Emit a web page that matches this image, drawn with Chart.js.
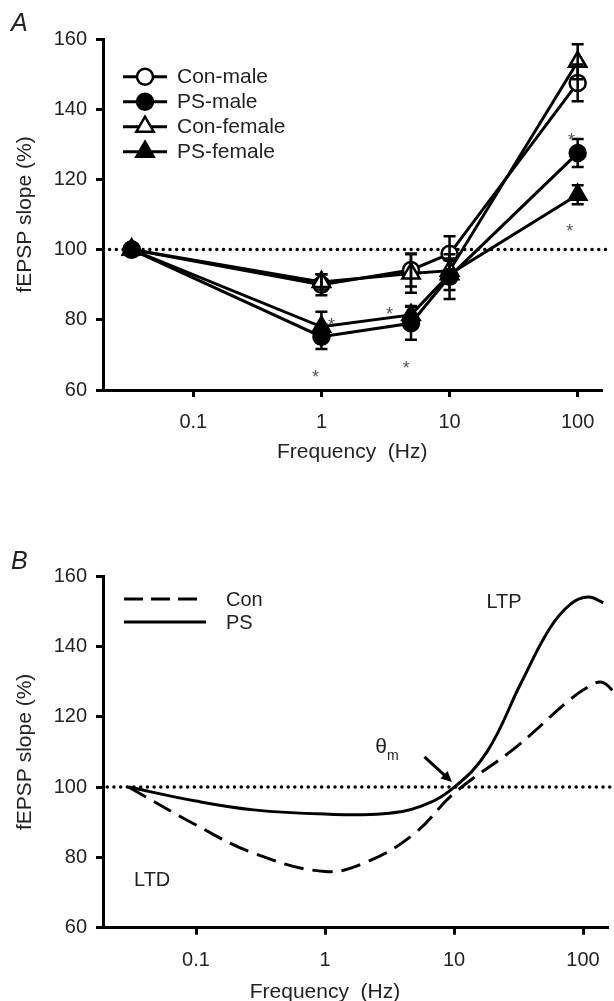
<!DOCTYPE html>
<html>
<head>
<meta charset="utf-8">
<script src="https://cdn.jsdelivr.net/npm/chart.js@4.4.0/dist/chart.umd.min.js"></script>
<style>
  html, body { margin: 0; padding: 0; background: #fff; }
  #wrap { position: relative; width: 614px; height: 1001px; }
  canvas { position: absolute; left: 0; }
  #chartA { top: 0; }
  #chartB { top: 500px; }
</style>
</head>
<body>
<div id="wrap">
  <canvas id="chartA" width="614" height="500"></canvas>
  <canvas id="chartB" width="614" height="501"></canvas>
</div>
<script>
// ===== panel A: frequency-response, mean ± SEM =====
const freqA = [0.033, 1, 5, 10, 100];
const conMale       = [100, 90.0, 94.2, 98.8, 147.5];
const conMaleErr    = [0, 3.0, 4.7, 5.0, 5.2];
const psMale        = [100, 75.2, 79.0, 92.3, 127.5];
const psMaleErr     = [0, 3.5, 4.7, 6.4, 4.0];
const conFemale     = [100, 90.8, 93.2, 94.0, 153.5];
const conFemaleErr  = [0, 2.2, 5.5, 3.0, 5.0];
const psFemale      = [100, 78.0, 81.4, 93.0, 115.6];
const psFemaleErr   = [0, 4.3, 2.5, 4.5, 2.7];

// asterisks (significance marks) in data units
const starFreq = [1.2, 0.9, 3.4, 4.6, 89.7, 86.7];
const starVal  = [79.8, 64.9, 82.8, 67.3, 132.3, 106.4];

// ===== panel B: model curves =====
const freqCon = [0.03, 0.1, 0.28, 1.0, 2.14, 4.95, 10, 30.6, 76, 110, 140, 175];
const valCon  = [100, 89.2, 81.2, 76.0, 78.8, 86.8, 98.2, 111.5, 124.3, 128.5, 129.8, 127.0];
const freqPS  = [0.03, 0.1, 0.28, 1.0, 2.83, 5.5, 10, 18, 33, 55, 80, 110, 143.5];
const valPS   = [100, 96.0, 93.5, 92.3, 92.4, 94.5, 99.9, 110.0, 129.5, 145.0, 152.0, 154.0, 152.4];

// ticks
const xTicks = [0.1, 1, 10, 100];
const yTicks = [60, 80, 100, 120, 140, 160];
const baseline = 100;

const FONT = '"Liberation Sans", Arial, sans-serif';
const TXT = '#222';
Chart.defaults.font.family = FONT;
Chart.defaults.color = TXT;

const pts = (xs, ys) => xs.map((x, i) => ({ x, y: ys[i] }));

const drawMarker = (ctx, style, r, x, y, fill) => {
  ctx.beginPath();
  if (style === 'circle') {
    ctx.arc(x, y, r, 0, Math.PI * 2);
  } else {
    let a = 0;
    for (let k = 0; k < 3; k++) {
      const px = x + Math.sin(a) * r, py = y - Math.cos(a) * r;
      k ? ctx.lineTo(px, py) : ctx.moveTo(px, py);
      a += Math.PI * 2 / 3;
    }
    ctx.closePath();
  }
  ctx.fillStyle = fill;
  ctx.fill();
  ctx.lineWidth = 2.5;
  ctx.strokeStyle = '#000';
  ctx.stroke();
};

const refLine = (xmin, xmax) => ({
  data: [{ x: xmin, y: baseline }, { x: xmax, y: baseline }],
  borderColor: '#000',
  borderWidth: 3.5,
  borderDash: [0, 6.7],
  borderCapStyle: 'round',
  pointRadius: 0,
  clip: false,
  order: 9
});

const axisOpts = (xMin, xMax, tickPad, titleA) => ({
  x: {
    type: 'logarithmic',
    min: xMin,
    max: xMax,
    afterBuildTicks: (s) => { s.ticks = xTicks.map(v => ({ value: v })); },
    afterFit: (s) => { s.height = titleA ? 110 : 73.3; },
    ticks: { callback: (v) => String(v), font: { size: 20 }, color: TXT, padding: tickPad, maxRotation: 0, autoSkip: false },
    grid: { drawOnChartArea: false, drawTicks: true, tickLength: 7, tickColor: '#000', tickWidth: 3, lineWidth: 3 },
    border: { display: true, color: '#000', width: 3 },
    title: {
      display: titleA,
      text: 'Frequency  (Hz)',
      font: { size: 21 },
      color: TXT,
      padding: { top: 0, bottom: 35 }
    }
  },
  y: {
    min: 60,
    max: 160,
    afterBuildTicks: (s) => { s.ticks = yTicks.map(v => ({ value: v })); },
    afterFit: (s) => { s.width = 103; },
    ticks: { font: { size: 20 }, color: TXT, padding: 9 },
    grid: { drawOnChartArea: false, drawTicks: true, tickLength: 7, tickColor: '#000', tickWidth: 3, lineWidth: 3 },
    border: { display: true, color: '#000', width: 3 },
    title: {
      display: true,
      text: 'fEPSP slope (%)',
      font: { size: 21 },
      color: TXT,
      padding: { top: 13, bottom: 0 }
    }
  }
});

// ===== plugins =====
const whiteBg = {
  id: 'whiteBg',
  beforeDraw(c) {
    const ctx = c.ctx;
    ctx.save();
    ctx.fillStyle = '#fff';
    ctx.fillRect(0, 0, c.width, c.height);
    ctx.restore();
  }
};

const errorBars = {
  id: 'errorBars',
  afterDatasetsDraw(chart) {
    const { ctx } = chart;
    const y = chart.scales.y;
    ctx.save();
    ctx.strokeStyle = '#000';
    ctx.lineWidth = 2.5;
    chart.data.datasets.forEach((ds, i) => {
      if (!ds.errors) return;
      chart.getDatasetMeta(i).data.forEach((pt, j) => {
        const e = ds.errors[j];
        if (!e) return;
        const v = ds.data[j].y;
        const top = y.getPixelForValue(v + e), bot = y.getPixelForValue(v - e);
        ctx.beginPath();
        ctx.moveTo(pt.x, top); ctx.lineTo(pt.x, bot);
        ctx.moveTo(pt.x - 6, top); ctx.lineTo(pt.x + 6, top);
        ctx.moveTo(pt.x - 6, bot); ctx.lineTo(pt.x + 6, bot);
        ctx.stroke();
      });
    });
    ctx.restore();
  }
};

const panelA = {
  id: 'panelA',
  afterDraw(chart) {
    const { ctx } = chart;
    const { x, y } = chart.scales;
    ctx.save();
    // panel letter
    ctx.fillStyle = TXT;
    ctx.font = `italic 25px ${FONT}`;
    ctx.textBaseline = 'middle';
    ctx.textAlign = 'left';
    ctx.fillText('A', 11, 24);
    // stars
    ctx.fillStyle = '#555';
    ctx.font = `18px ${FONT}`;
    ctx.textAlign = 'center';
    ctx.textBaseline = 'alphabetic';
    starFreq.forEach((f, i) => {
      ctx.fillText('*', x.getPixelForValue(f), y.getPixelForValue(starVal[i]) + 10);
    });
    // legend
    const items = chart.data.datasets.filter(d => d.legend);
    items.forEach((d, i) => {
      const ly = 76.7 + i * 25;
      ctx.beginPath();
      ctx.moveTo(123, ly); ctx.lineTo(167, ly);
      ctx.lineWidth = 3; ctx.strokeStyle = '#000';
      ctx.stroke();
      drawMarker(ctx, d.pointStyle, d.pointRadius, 145, ly, d.pointBackgroundColor);
      ctx.fillStyle = TXT;
      ctx.font = `21px ${FONT}`;
      ctx.textAlign = 'left';
      ctx.textBaseline = 'middle';
      ctx.fillText(d.label, 177, ly + 1);
    });
    ctx.restore();
  }
};

const panelB = {
  id: 'panelB',
  afterDraw(chart) {
    const { ctx } = chart;
    const { x, y } = chart.scales;
    ctx.save();
    ctx.fillStyle = TXT;
    ctx.font = `italic 25px ${FONT}`;
    ctx.textBaseline = 'middle';
    ctx.textAlign = 'left';
    ctx.fillText('B', 11, 62);
    // x title (sits left of centre in the original)
    ctx.font = `21px ${FONT}`;
    ctx.textAlign = 'center';
    ctx.fillText('Frequency  (Hz)', 325, 492);
    // legend
    ctx.strokeStyle = '#000';
    ctx.lineWidth = 3;
    ctx.setLineDash([19, 8]);
    ctx.beginPath(); ctx.moveTo(124, 99); ctx.lineTo(197, 99); ctx.stroke();
    ctx.setLineDash([]);
    ctx.beginPath(); ctx.moveTo(124, 122); ctx.lineTo(206, 122); ctx.stroke();
    ctx.textAlign = 'left';
    ctx.font = `20px ${FONT}`;
    ctx.fillText('Con', 226, 100);
    ctx.fillText('PS', 226, 123);
    // region labels
    ctx.fillText('LTD', 134, 380);
    ctx.textAlign = 'center';
    ctx.fillText('LTP', 504, 102);
    ctx.font = `21px ${FONT}`;
    ctx.fillText('θ', 381, 247);
    ctx.font = `14px ${FONT}`;
    ctx.textAlign = 'left';
    ctx.fillText('m', 387, 256);
    // arrow to the modification threshold
    const x0 = x.getPixelForValue(5.9), y0 = y.getPixelForValue(108.6);
    const x1 = x.getPixelForValue(9.64), y1 = y.getPixelForValue(101.4);
    const ang = Math.atan2(y1 - y0, x1 - x0);
    ctx.beginPath();
    ctx.moveTo(x0, y0);
    ctx.lineTo(x1 - Math.cos(ang) * 8, y1 - Math.sin(ang) * 8);
    ctx.stroke();
    ctx.beginPath();
    ctx.moveTo(x1, y1);
    ctx.lineTo(x1 - Math.cos(ang - 0.45) * 12, y1 - Math.sin(ang - 0.45) * 12);
    ctx.lineTo(x1 - Math.cos(ang + 0.45) * 12, y1 - Math.sin(ang + 0.45) * 12);
    ctx.closePath();
    ctx.fillStyle = '#000';
    ctx.fill();
    ctx.restore();
  }
};

// ===== chart A =====
const series = (label, vals, errs, style, fill, order) => ({
  label,
  legend: true,
  order,
  data: pts(freqA, vals),
  errors: errs,
  borderColor: '#000',
  borderWidth: 3,
  tension: 0,
  pointStyle: style,
  pointRadius: style === 'triangle' ? 10 : 8,
  pointBackgroundColor: fill,
  pointBorderColor: '#000',
  pointBorderWidth: 2.5,
  pointHoverRadius: style === 'triangle' ? 10 : 8
});

new Chart(document.getElementById('chartA'), {
  type: 'line',
  data: {
    datasets: [
      series('Con-male', conMale, conMaleErr, 'circle', '#fff', 4),
      series('PS-male', psMale, psMaleErr, 'circle', '#000', 1),
      series('Con-female', conFemale, conFemaleErr, 'triangle', '#fff', 2),
      series('PS-female', psFemale, psFemaleErr, 'triangle', '#000', 3),
      refLine(0.0197, 174)
    ]
  },
  options: {
    responsive: false,
    devicePixelRatio: 1,
    animation: false,
    layout: { padding: { left: 0, right: 9, top: 39, bottom: 0 } },
    plugins: { legend: { display: false }, tooltip: { enabled: false } },
    scales: axisOpts(Math.pow(10, -1.705), Math.pow(10, 2.186), 13, true)
  },
  plugins: [whiteBg, errorBars, panelA]
});

// ===== chart B =====
new Chart(document.getElementById('chartB'), {
  type: 'line',
  data: {
    datasets: [
      {
        label: 'PS',
        data: pts(freqPS, valPS),
        borderColor: '#000',
        borderWidth: 3,
        tension: 0.4,
        pointRadius: 0,
        clip: false
      },
      {
        label: 'Con',
        data: pts(freqCon, valCon),
        borderColor: '#000',
        borderWidth: 3,
        borderDash: [20, 9],
        tension: 0.4,
        pointRadius: 0,
        clip: false
      },
      refLine(0.0205, 175)
    ]
  },
  options: {
    responsive: false,
    devicePixelRatio: 1,
    animation: false,
    layout: { padding: { left: 0, right: 6, top: 76, bottom: 0 } },
    plugins: { legend: { display: false }, tooltip: { enabled: false } },
    scales: axisOpts(Math.pow(10, -1.721), Math.pow(10, 2.186), 14, false)
  },
  plugins: [whiteBg, panelB]
});
</script>
</body>
</html>
